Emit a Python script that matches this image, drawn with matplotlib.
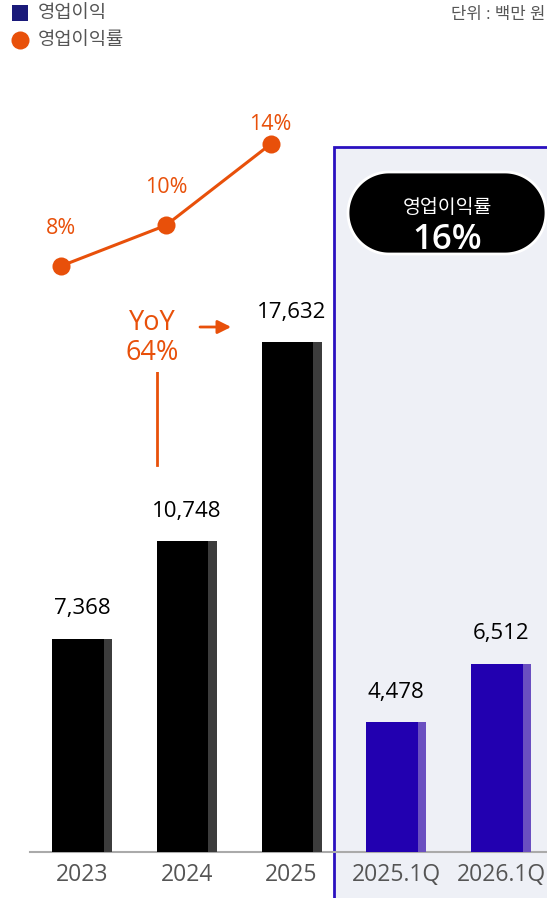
import matplotlib.pyplot as plt
import numpy as np
from matplotlib.patches import Rectangle, Polygon

plt.rcParams['font.family'] = ['Open Sans', 'Noto Sans CJK KR', 'DejaVu Sans']

# Data
periods = ['2023', '2024', '2025', '2025.1Q', '2026.1Q']
profit = np.array([7368, 10748, 17632, 4478, 6512])     # 영업이익 (백만 원)
margin_years = ['2023', '2024', '2025']
margin = np.array([8, 10, 14])                          # 영업이익률 (%)
margin_q = 16
yoy = 64

ORANGE = '#e8500a'
GRAY = '#555555'

W, H = 547, 898
fig = plt.figure(figsize=(W / 100, H / 100), dpi=100)
fig.patch.set_facecolor('white')

# background layer in pixel coordinates
bg = fig.add_axes([0, 0, 1, 1])
bg.set_xlim(0, W)
bg.set_ylim(H, 0)
bg.axis('off')

bg.add_patch(Rectangle((334, 147), 230, 800, fc='#eef0f6', ec='#2a10c0', lw=2))
bg.plot([30, W], [852, 852], color='#aaaaaa', lw=1.5)

# legend + unit
bg.add_patch(Rectangle((12, 5), 16, 16, fc='#1a1a7a', ec='none'))
bg.text(38, 13, '영업이익', fontsize=13.5, color=GRAY, va='center')
bg.plot(20, 40, 'o', ms=13, color=ORANGE, mec='none')
bg.text(38, 40, '영업이익률', fontsize=13.5, color=GRAY, va='center')
bg.text(545, 15, '단위 : 백만 원', fontsize=12, color=GRAY, va='center', ha='right')

# quarter margin pill (stadium shape)
r = 41
cx0, cx1, cy = 348 + r, 546 - r, 213
t = np.linspace(-np.pi / 2, np.pi / 2, 60)
right = np.column_stack([cx1 + r * np.cos(t), cy + r * np.sin(t)])
left = np.column_stack([cx0 - r * np.cos(t), cy - r * np.sin(t)])
bg.add_patch(Polygon(np.vstack([right, left]), closed=True, fc='black', ec='white', lw=2))
bg.text(447, 208, '영업이익률', fontsize=14, color='white', ha='center', va='center')
bg.text(447, 240, f'{margin_q}%', fontsize=25, color='white', ha='center', va='center',
        fontweight='semibold')

# bars
step = 104.75
s = 510 / 17632
ax = fig.add_axes([0, 0, 1, 1])
ax.patch.set_alpha(0)
ax.set_xlim(-82 / step, (W - 82) / step)
ax.set_ylim(-46 / s, 852 / s)
ax.axis('off')

x = np.arange(len(periods))
main_cols = ['black'] * 3 + ['#2200b0'] * 2
shade_cols = ['#3c3c3c'] * 3 + ['#6a4fc0'] * 2
bw = 60 / step
ax.bar(x, profit, width=bw, color=shade_cols, zorder=2)
ax.bar(x - bw / 2, profit, width=bw * 0.86, align='edge', color=main_cols, zorder=3)

for xi, v in zip(x, profit):
    ax.text(xi, v + 30 / s, f'{v:,}', ha='center', va='center', fontsize=16, color='black')
for xi, lab in zip(x, periods):
    ax.text(xi, -23 / s, lab, ha='center', va='center', fontsize=16.5, color=GRAY)

# YoY annotation
ax.plot([0.72, 0.72], [(852 - 465) / s, (852 - 372) / s], color=ORANGE, lw=2, zorder=4)
ax.add_patch(Rectangle((0.22, (852 - 372) / s), 0.88, 64 / s, fc='white', ec='none', zorder=4))
ax.text(0.67, (852 - 323) / s, 'YoY', ha='center', va='center', fontsize=19.5, color=ORANGE, zorder=5)
ax.text(0.67, (852 - 353) / s, f'{yoy}%', ha='center', va='center', fontsize=19.5, color=ORANGE, zorder=5)
ax.annotate('', xy=(1.45, (852 - 327) / s), xytext=(1.1, (852 - 327) / s),
            arrowprops=dict(arrowstyle='-|>', color=ORANGE, lw=2, mutation_scale=20), zorder=5)

# margin line
ax2 = ax.twinx()
ax2.set_ylim(8 - 632 / 20.3, 8 + 266 / 20.3)
ax2.axis('off')
lx = np.arange(len(margin_years)) - 0.2
ax2.plot(lx, margin, color=ORANGE, lw=2.2, marker='o', ms=13, mec='none', zorder=6)
for xi, m, off in zip(lx, margin, [38, 38, 20]):
    ax2.text(xi, m + off / 20.3, f'{m}%', ha='center', va='center', fontsize=15.5, color=ORANGE)

fig.savefig('out.png', dpi=100)
